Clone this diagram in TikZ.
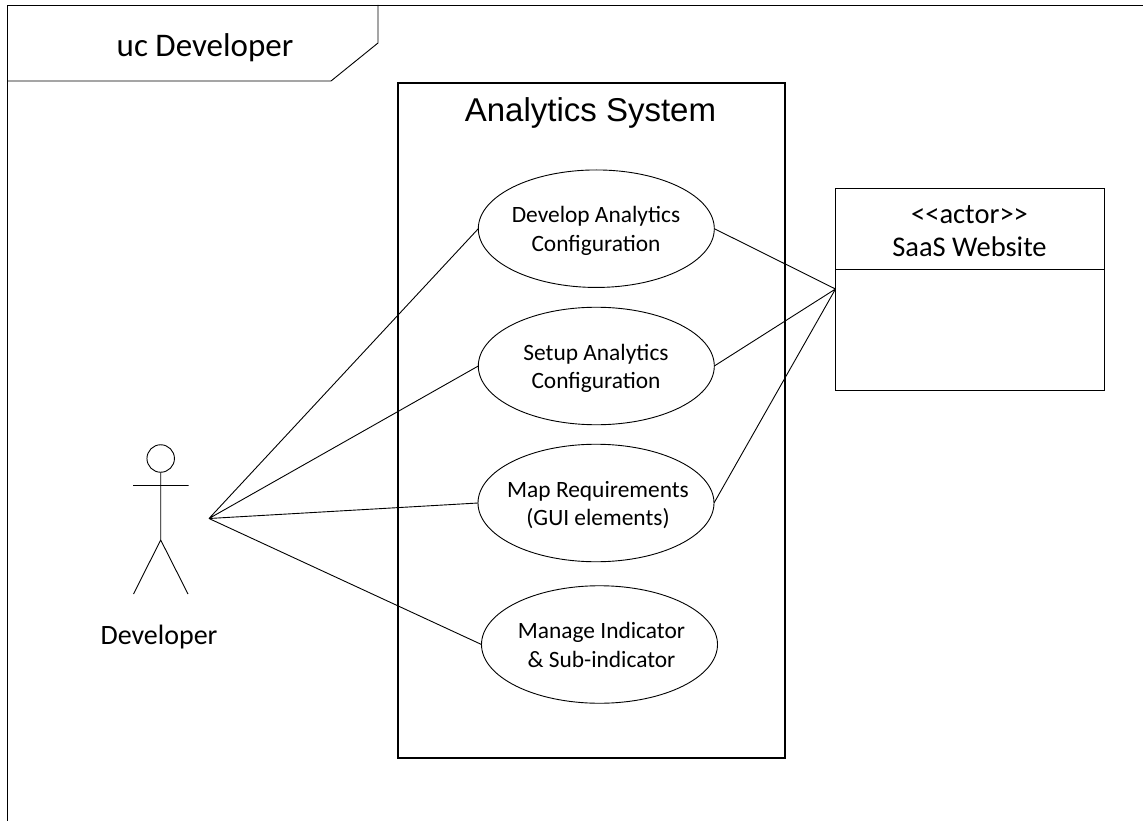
\documentclass[tikz,border=0pt]{standalone}
\usepackage{fontspec}
\setmainfont{Carlito}
\newfontfamily\arialf{Liberation Sans}
\usetikzlibrary{shapes.geometric}
\begin{document}
\begin{tikzpicture}[x=1pt,y=-1pt,
  every node/.style={inner sep=0pt,outer sep=0pt},
  usecase/.style={draw,ellipse,minimum width=236pt,minimum height=117.5pt,line width=0.9pt},
  uctext/.style={align=center,font=\fontsize{23.4}{28.7}\selectfont},
  conn/.style={line width=0.9pt},
  frameline/.style={line width=0.9pt}]
\useasboundingbox (0,0) rectangle (1143,821);
\draw[frameline] (7.5,821) -- (7.5,5) -- (1143,5);
\draw[frameline] (7.5,81) -- (331,81) -- (378,43) -- (378,5);
\node[font=\fontsize{33}{38}\selectfont,anchor=center] (title) at (205,48) {uc Developer};
\node[draw,line width=1.1pt,minimum width=387pt,minimum height=675pt,anchor=north west] (sys) at (398,83) {};
\node[font=\arialf\fontsize{33}{40}\selectfont] (systitle) at (590.5,113) {Analytics System};
\node[usecase] (u1) at (596.3,228.7) {};
\node[usecase] (u2) at (596.3,366) {};
\node[usecase] (u3) at (596,503) {};
\node[usecase] (u4) at (599.5,644.5) {};
\node[uctext] (t1) at (596,231) {Develop Analytics\\Configuration};
\node[uctext] (t2) at (596,368.5) {Setup Analytics\\Configuration};
\node[uctext] (t3) at (598,505) {Map Requirements\\(GUI elements)};
\node[uctext] (t4) at (601.5,645) {Manage Indicator\\\& Sub-indicator};
\node[draw,line width=0.9pt,minimum width=269.5pt,minimum height=202pt,anchor=north west] (saas) at (835,188.3) {};
\coordinate (dl) at (835,269.5);
\coordinate (dr) at (1104.5,269.5);
\draw[conn] (dl) -- (dr);
\node[font=\fontsize{28.5}{33}\selectfont,align=center] (saast) at (969.5,231) {<{}<actor>{}>\\SaaS Website};
\coordinate (sp) at (835.5,289);
\coordinate (dp) at (209,518.5);
\node[draw,circle,minimum size=27.5pt,line width=0.9pt] (head) at (160.7,458.5) {};
\coordinate (hip) at (160.7,540);
\coordinate (fl) at (133.5,594);
\coordinate (fr) at (188,594);
\coordinate (al) at (133,485.5);
\coordinate (ar) at (188.5,485.5);
\draw[conn] (head.south) -- (hip) -- (fl) (hip) -- (fr) (al) -- (ar);
\node[font=\fontsize{28}{33}\selectfont] (dev) at (159,637) {Developer};
\draw[conn] (dp) -- (u1.west) (dp) -- (u2.west) (dp) -- (u3.west) (dp) -- (u4.west);
\draw[conn] (u1.east) -- (sp) (u2.east) -- (sp) (u3.east) -- (sp);
\end{tikzpicture}
\end{document}
